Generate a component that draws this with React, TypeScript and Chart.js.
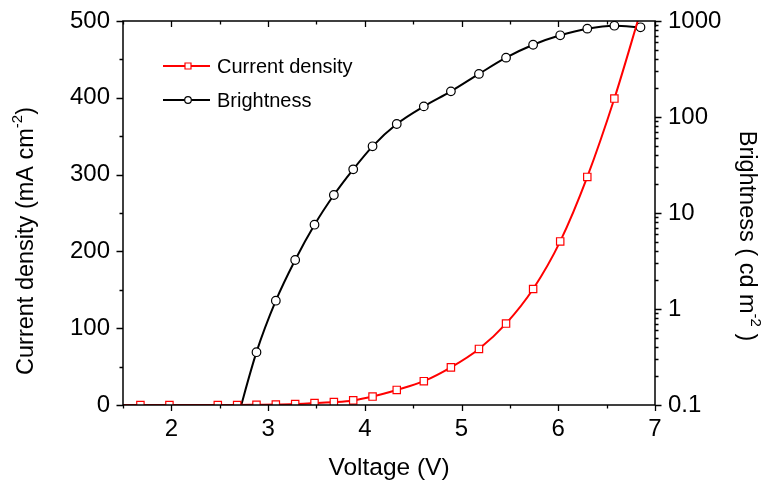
import React, { useEffect, useRef } from "react";
import { Chart, registerables } from "chart.js";

Chart.register(...registerables);

// ---- data ----
const currentVoltage = [1.45, 1.68, 1.98, 2.48, 2.68, 2.88, 3.08, 3.28, 3.48, 3.68, 3.88, 4.08, 4.33, 4.61, 4.89, 5.18, 5.46, 5.74, 6.02, 6.3, 6.58, 6.85];
const currentDensity = [0, 0, 0, 0, 0, 0.3, 0.6, 1.3, 2.6, 3.8, 6, 11, 19.6, 31, 49, 73, 106, 151, 213, 297, 399, 512];

const brightnessVoltage = [2.68, 2.88, 3.08, 3.28, 3.48, 3.68, 3.88, 4.08, 4.33, 4.61, 4.89, 5.18, 5.46, 5.74, 6.02, 6.3, 6.58, 6.85];
const brightness = [0.07, 0.355, 1.22, 3.24, 7.55, 15.4, 28.5, 49.5, 84.5, 129, 185, 281, 415, 566, 710, 832, 893, 860];

const xTicks = [2, 3, 4, 5, 6, 7];
const yLeftTicks = [0, 100, 200, 300, 400, 500];
const yRightTicks = [0.1, 1, 10, 100, 1000];

const legendLabels = ["Current density", "Brightness"];
const xTitle = "Voltage (V)";

const FONT = "'Liberation Sans', Arial, Helvetica, sans-serif";

type Part = { t: string; sup?: boolean };

function drawRich(ctx: CanvasRenderingContext2D, parts: Part[], size: number) {
  const main = `${size}px ${FONT}`;
  const sup = `${Math.round(size * 0.62)}px ${FONT}`;
  let total = 0;
  const widths: number[] = [];
  for (const p of parts) {
    ctx.font = p.sup ? sup : main;
    const w = ctx.measureText(p.t).width;
    widths.push(w);
    total += w;
  }
  let x = -total / 2;
  ctx.textBaseline = "middle";
  ctx.textAlign = "left";
  parts.forEach((p, i) => {
    ctx.font = p.sup ? sup : main;
    ctx.fillText(p.t, x, p.sup ? -size * 0.38 : 0);
    x += widths[i];
  });
}

const zeroPad = (s: any) => {
  s.paddingTop = 0;
  s.paddingBottom = 0;
  s.paddingLeft = 0;
  s.paddingRight = 0;
};

const decorPlugin = {
  id: "decor",
  afterDraw(chart: any) {
    const ctx: CanvasRenderingContext2D = chart.ctx;
    const { left, right, top, bottom } = chart.chartArea;
    const xs = chart.scales.x;
    const yl = chart.scales.y;
    const yr = chart.scales.y2;
    ctx.save();
    ctx.strokeStyle = "#000";
    ctx.fillStyle = "#000";
    ctx.lineWidth = 1.5;
    ctx.strokeRect(left, top, right - left, bottom - top);

    ctx.lineWidth = 1.3;
    ctx.beginPath();
    // x ticks bottom (out) and top (in)
    for (let v = 1.5; v <= 7.0001; v += 0.5) {
      const px = Math.round(xs.getPixelForValue(v)) + 0.5;
      const major = Math.abs(v - Math.round(v)) < 1e-6;
      const len = major ? 6 : 3.5;
      ctx.moveTo(px, bottom);
      ctx.lineTo(px, bottom + len);
      ctx.moveTo(px, top);
      ctx.lineTo(px, top + len);
    }
    // left ticks (out)
    for (let v = 0; v <= 500; v += 50) {
      const py = Math.round(yl.getPixelForValue(v)) + 0.5;
      const len = v % 100 === 0 ? 6.5 : 3.5;
      ctx.moveTo(left, py);
      ctx.lineTo(left - len, py);
    }
    // right log ticks (out)
    for (let d = -1; d <= 3; d++) {
      const base = Math.pow(10, d);
      for (let m = 1; m <= 9; m++) {
        const v = base * m;
        if (v > 1000.0001) break;
        const py = Math.round(yr.getPixelForValue(v)) + 0.5;
        const len = m === 1 ? 6.5 : 3.5;
        ctx.moveTo(right, py);
        ctx.lineTo(right + len, py);
      }
    }
    ctx.stroke();

    // axis titles
    ctx.fillStyle = "#000";
    ctx.save();
    ctx.translate(389, 468);
    drawRich(ctx, [{ t: xTitle }], 24.5);
    ctx.restore();

    ctx.save();
    ctx.translate(27, 241);
    ctx.rotate(-Math.PI / 2);
    drawRich(ctx, [{ t: "Current density (mA cm" }, { t: "-2", sup: true }, { t: ")" }], 23.5);
    ctx.restore();

    ctx.save();
    ctx.translate(746, 236);
    ctx.rotate(Math.PI / 2);
    drawRich(ctx, [{ t: "Brightness ( cd m" }, { t: "-2", sup: true }, { t: " )" }], 23.5);
    ctx.restore();

    // legend
    const rows = [
      { y: 66, color: "#ff0000", shape: "rect", label: legendLabels[0] },
      { y: 100, color: "#000000", shape: "circle", label: legendLabels[1] },
    ];
    for (const r of rows) {
      ctx.strokeStyle = r.color;
      ctx.lineWidth = 2;
      ctx.beginPath();
      ctx.moveTo(163, r.y);
      ctx.lineTo(210, r.y);
      ctx.stroke();
      ctx.fillStyle = "#fff";
      ctx.lineWidth = 1.2;
      ctx.beginPath();
      if (r.shape === "rect") {
        ctx.rect(185, r.y - 3, 6, 6);
      } else {
        ctx.arc(188, r.y, 3.3, 0, Math.PI * 2);
      }
      ctx.fill();
      ctx.stroke();
      ctx.fillStyle = "#000";
      ctx.font = `20px ${FONT}`;
      ctx.textAlign = "left";
      ctx.textBaseline = "middle";
      ctx.fillText(r.label, 217, r.y + 1);
    }
    ctx.restore();
  },
};

export default function App() {
  const ref = useRef<HTMLCanvasElement | null>(null);
  useEffect(() => {
    document.body.style.margin = "0";
    const canvas = ref.current;
    if (!canvas) return;
    const tickFont = { family: FONT, size: 24 };
    const chart = new Chart(canvas, {
      type: "line",
      data: {
        datasets: [
          {
            label: legendLabels[0],
            data: currentVoltage.map((v, i) => ({ x: v, y: currentDensity[i] })),
            yAxisID: "y",
            borderColor: "#ff0000",
            borderWidth: 2,
            backgroundColor: "#ffffff",
            pointStyle: "rect",
            pointRadius: 5.2,
            pointBorderWidth: 1.2,
            pointBorderColor: "#ff0000",
            pointBackgroundColor: "#ffffff",
            cubicInterpolationMode: "monotone",
          },
          {
            label: legendLabels[1],
            data: brightnessVoltage.map((v, i) => ({ x: v, y: brightness[i] })),
            yAxisID: "y2",
            borderColor: "#000000",
            borderWidth: 2,
            backgroundColor: "#ffffff",
            pointStyle: "circle",
            pointRadius: 4.3,
            pointBorderWidth: 1.2,
            pointBorderColor: "#000000",
            pointBackgroundColor: "#ffffff",
            cubicInterpolationMode: "monotone",
          },
        ],
      },
      options: {
        responsive: false,
        animation: false,
        devicePixelRatio: 1,
        layout: { padding: { top: 21, left: 0, right: 0, bottom: 0 } },
        plugins: { legend: { display: false }, tooltip: { enabled: false } },
        scales: {
          x: {
            type: "linear",
            position: "bottom",
            min: 1.5,
            max: 7,
            grid: { display: false, drawTicks: false },
            border: { display: false },
            ticks: { font: tickFont, color: "#000", padding: 10, maxRotation: 0 },
            afterBuildTicks: (s: any) => {
              s.ticks = xTicks.map((v) => ({ value: v }));
            },
            afterFit: (s: any) => {
              s.height = 79;
              zeroPad(s);
            },
          },
          y: {
            type: "linear",
            position: "left",
            min: 0,
            max: 500,
            grid: { display: false, drawTicks: false },
            border: { display: false },
            ticks: { font: tickFont, color: "#000", padding: 13 },
            afterBuildTicks: (s: any) => {
              s.ticks = yLeftTicks.map((v) => ({ value: v }));
            },
            afterFit: (s: any) => {
              s.width = 123;
              zeroPad(s);
            },
          },
          y2: {
            type: "logarithmic",
            position: "right",
            min: 0.1,
            max: 1000,
            grid: { display: false, drawTicks: false },
            border: { display: false },
            ticks: {
              font: tickFont,
              color: "#000",
              padding: 13,
              callback: (v: any) => String(Number(v)),
            },
            afterBuildTicks: (s: any) => {
              s.ticks = yRightTicks.map((v) => ({ value: v }));
            },
            afterFit: (s: any) => {
              s.width = 108;
              zeroPad(s);
            },
          },
        },
      },
      plugins: [decorPlugin],
    } as any);
    return () => chart.destroy();
  }, []);
  return (
    <canvas
      ref={ref}
      width={763}
      height={484}
      style={{ display: "block", width: 763, height: 484, background: "#fff" }}
    />
  );
}
